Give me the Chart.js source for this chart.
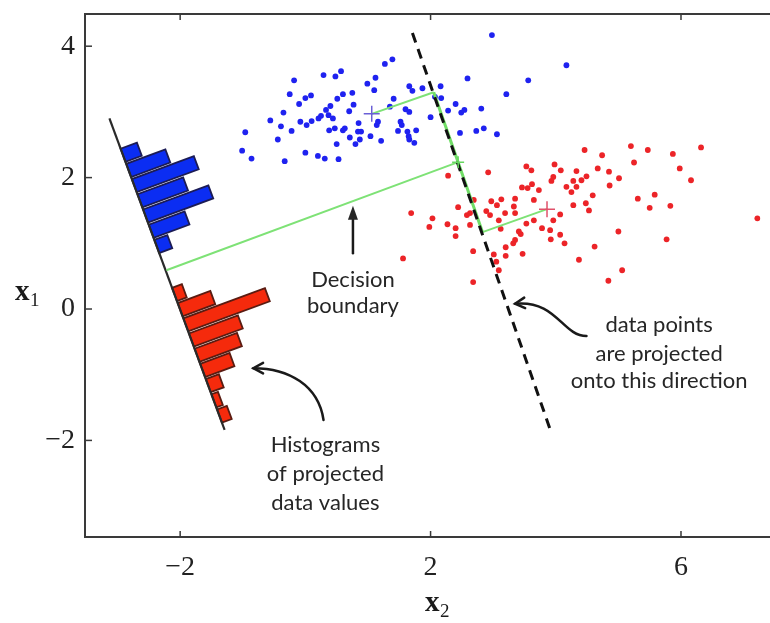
<!DOCTYPE html>
<html><head><meta charset="utf-8">
<script src="https://cdn.jsdelivr.net/npm/chart.js@4.4.1/dist/chart.umd.min.js"></script>
<style>html,body{margin:0;padding:0;background:#fff;overflow:hidden}#wrap{width:770px;height:623px}</style>
</head><body><div id="wrap"><canvas id="c" width="770" height="623"></canvas></div>
<script>
// ---- tick labels ----
const xTicks = [-2, 2, 6];
const yTicks = [-2, 0, 2, 4];
// ---- class 1 (blue) samples ----
const blueX = [1.27,1.39,0.29,0.48,0.57,-0.18,1.12,0.99,1.10,2.59,-0.25,0.00,0.09,0.51,0.60,0.75,1.41,1.66,1.71,1.87,2.16,3.21,-0.10,0.33,0.40,0.25,0.37,0.77,0.70,1.35,1.60,1.66,2.07,2.17,2.40,2.28,2.49,2.54,2.81,-0.35,-0.56,-0.08,0.02,0.10,0.21,0.44,0.47,0.60,0.63,0.85,0.84,0.89,1.14,1.16,1.52,1.54,1.48,1.63,1.77,2.00,2.47,2.73,2.85,3.06,-0.96,-0.39,-0.22,0.38,-0.44,0.71,0.80,0.87,1.04,1.21,1.66,1.74,1.65,0.50,-1.01,-0.86,-0.33,0.00,0.20,0.31,0.53,2.98,4.17,3.56];
const blueY = [3.73,3.80,3.56,3.54,3.62,3.48,3.52,3.43,3.33,3.51,3.27,3.21,3.25,3.20,3.27,3.29,3.20,3.39,3.32,3.36,3.39,3.27,3.12,3.03,3.09,2.94,2.95,3.11,3.01,3.08,3.04,3.00,3.23,3.21,3.12,3.02,2.99,3.03,3.05,2.99,2.87,2.85,2.80,2.86,2.90,2.90,2.75,2.72,2.75,2.83,2.70,2.70,2.80,2.85,2.85,2.80,2.71,2.70,2.72,2.92,2.68,2.71,2.75,2.66,2.69,2.78,2.71,2.72,2.58,2.61,2.51,2.58,2.63,2.56,2.58,2.53,2.63,2.51,2.41,2.29,2.25,2.38,2.33,2.29,2.28,4.17,3.71,3.48];
// ---- class 2 (red) samples ----
const redX = [5.20,5.47,5.87,6.32,4.46,4.74,5.25,5.98,6.16,3.53,3.61,3.98,4.08,4.33,4.49,4.67,4.85,5.01,4.86,2.92,2.28,3.93,3.96,4.28,4.41,4.17,4.25,4.33,3.46,3.55,3.62,3.73,4.59,5.31,5.58,5.50,5.83,2.97,3.13,3.06,3.35,3.65,4.28,4.48,4.53,2.44,2.69,2.58,2.63,1.69,2.03,2.89,2.95,3.09,3.19,3.33,3.35,3.53,3.65,3.78,3.91,3.96,4.07,1.98,2.27,2.40,2.40,2.63,3.12,3.41,3.44,3.35,3.32,3.92,4.07,4.14,5.00,5.77,4.62,3.20,3.20,3.01,3.47,2.68,1.56,4.37,3.05,3.09,5.06,2.68,4.84,7.22];
const redY = [2.48,2.42,2.36,2.46,2.42,2.34,2.23,2.14,1.96,2.17,2.11,2.20,2.11,2.10,2.02,2.14,2.09,1.99,1.88,2.08,2.03,1.95,2.01,1.95,1.96,1.86,1.78,1.86,1.85,1.84,1.90,1.81,1.73,1.68,1.74,1.54,1.57,1.64,1.67,1.58,1.68,1.66,1.58,1.61,1.50,1.55,1.66,1.43,1.46,1.46,1.38,1.49,1.43,1.35,1.46,1.56,1.46,1.30,1.35,1.23,1.20,1.35,1.44,1.25,1.29,1.23,1.11,1.28,1.22,1.18,1.14,1.05,1.00,1.06,1.13,1.00,1.18,1.06,0.95,0.94,0.81,0.83,0.84,0.88,0.77,0.75,0.72,0.59,0.59,0.41,0.43,1.38];
// ---- means, projection direction and decision boundary ----
const blueMean = [1.06, 2.97];
const redMean = [3.86, 1.52];
const blueFoot = [2.05, 3.30];
const redFoot = [2.83, 1.17];
const midPoint = [2.44, 2.235];
const projLineX = [1.71, 3.92];
const projLineY = [4.20, -1.86];
const boundaryX = [2.44, -2.22];
const boundaryY = [2.235, 0.59];
// ---- histograms of projected values ----
const histAxisX = [-3.13, -1.29];
const histAxisY = [2.90, -1.84];
const blueCounts = [5, 12, 19, 14, 20, 11, 4];
const redCounts = [3, 10, 25, 15, 13, 9, 4, 2, 3];
</script>
<script>
const blueStartFrac = 0.094, redStartFrac = 0.541, binFrac = 0.0488, countUnit = 0.0556;
const minus = v => String(v).replace('-', '\u2212');
const pts = (xs, ys) => xs.map((x, i) => ({x, y: ys[i]}));
const seg = (a, b) => [{x:a[0], y:a[1]}, {x:b[0], y:b[1]}];
const zeroPad = s => { s.paddingLeft = 0; s.paddingRight = 0; s.paddingTop = 0; s.paddingBottom = 0; };

const histPlugin = {
  id: 'hist',
  beforeDatasetsDraw(chart) {
    const ctx = chart.ctx, xs = chart.scales.x, ys = chart.scales.y;
    const P = (x, y) => [xs.getPixelForValue(x), ys.getPixelForValue(y)];
    const A = P(histAxisX[0], histAxisY[0]), B = P(histAxisX[1], histAxisY[1]);
    const len = Math.hypot(B[0]-A[0], B[1]-A[1]);
    const d = [(B[0]-A[0])/len, (B[1]-A[1])/len];
    const n = [d[1], -d[0]];
    const unitPx = xs.getPixelForValue(countUnit) - xs.getPixelForValue(0);
    ctx.save();
    const draw = (counts, start, fill, stroke) => {
      counts.forEach((c, i) => {
        const s = (start + i*binFrac)*len + 1, w = binFrac*len - 2.2, L = c*unitPx;
        const a = [A[0]+d[0]*s, A[1]+d[1]*s];
        const b = [a[0]+d[0]*w, a[1]+d[1]*w];
        ctx.beginPath();
        ctx.moveTo(a[0], a[1]); ctx.lineTo(b[0], b[1]);
        ctx.lineTo(b[0]+n[0]*L, b[1]+n[1]*L); ctx.lineTo(a[0]+n[0]*L, a[1]+n[1]*L);
        ctx.closePath();
        ctx.fillStyle = fill; ctx.fill();
        ctx.lineWidth = 1.8; ctx.strokeStyle = stroke; ctx.stroke();
      });
    };
    draw(blueCounts, blueStartFrac, '#0b2df2', '#1c1c55');
    draw(redCounts, redStartFrac, '#f52a0c', '#5a1c12');
    ctx.beginPath(); ctx.moveTo(A[0], A[1]); ctx.lineTo(B[0], B[1]);
    ctx.lineWidth = 2.2; ctx.strokeStyle = '#2a2a2a'; ctx.stroke();
    ctx.restore();
  }
};

const frame = {
  id: 'frame',
  afterDraw(chart) {
    const ctx = chart.ctx, a = chart.chartArea, xs = chart.scales.x, ys = chart.scales.y;
    ctx.save();
    ctx.strokeStyle = '#3a3a3a'; ctx.lineWidth = 2;
    ctx.beginPath();
    ctx.moveTo(chart.width, a.top); ctx.lineTo(a.left, a.top); ctx.lineTo(a.left, a.bottom); ctx.lineTo(chart.width, a.bottom);
    ctx.stroke();
    ctx.lineWidth = 1.5;
    xTicks.forEach(v => { const p = xs.getPixelForValue(v);
      ctx.beginPath(); ctx.moveTo(p, a.bottom); ctx.lineTo(p, a.bottom - 6); ctx.moveTo(p, a.top); ctx.lineTo(p, a.top + 6); ctx.stroke(); });
    yTicks.forEach(v => { const p = ys.getPixelForValue(v);
      ctx.beginPath(); ctx.moveTo(a.left, p); ctx.lineTo(a.left + 7, p); ctx.stroke(); });
    // axis titles
    ctx.fillStyle = '#1a1a1a'; ctx.textBaseline = 'alphabetic'; ctx.textAlign = 'left';
    ctx.font = 'bold 29px "Liberation Serif"'; ctx.fillText('x', 15, 300);
    ctx.font = '19px "Liberation Serif"'; ctx.fillText('1', 30, 306);
    ctx.font = 'bold 29px "Liberation Serif"'; ctx.fillText('x', 425, 611);
    ctx.font = '19px "Liberation Serif"'; ctx.fillText('2', 440, 617);
    ctx.restore();
  }
};

const annotate = {
  id: 'annotate',
  afterDatasetsDraw(chart) {
    const ctx = chart.ctx, xs = chart.scales.x, ys = chart.scales.y;
    const P = (x, y) => [xs.getPixelForValue(x), ys.getPixelForValue(y)];
    ctx.save();
    ctx.fillStyle = '#262626'; ctx.strokeStyle = '#1a1a1a';
    ctx.font = '22px Lato'; ctx.textAlign = 'center'; ctx.textBaseline = 'alphabetic';
    const text = (x, ys_, lines) => lines.forEach((t, i) => { const p = P(x, ys_[i]); ctx.fillText(t, p[0], p[1]); });
    text(0.76, [0.335, -0.06], ['Decision', 'boundary']);
    text(5.65, [-0.35, -0.79, -1.20], ['data points', 'are projected', 'onto this direction']);
    text(0.32, [-2.17, -2.62, -3.06], ['Histograms', 'of projected', 'data values']);
    // straight arrow
    ctx.lineWidth = 2.5; ctx.lineCap = 'round';
    let p0 = P(0.76, 0.85), p1 = P(0.76, 1.57);
    ctx.beginPath(); ctx.moveTo(p0[0], p0[1]); ctx.lineTo(p1[0], p1[1] + 8); ctx.stroke();
    ctx.beginPath(); ctx.moveTo(p1[0], p1[1]); ctx.lineTo(p1[0] - 5, p1[1] + 14); ctx.lineTo(p1[0] + 5, p1[1] + 14); ctx.closePath(); ctx.fill();
    // curved arrows
    const curve = (q0, q1, q2, q3) => {
      const a = P(...q0), b = P(...q1), c = P(...q2), e = P(...q3);
      ctx.beginPath(); ctx.moveTo(a[0], a[1]); ctx.bezierCurveTo(b[0], b[1], c[0], c[1], e[0], e[1]); ctx.stroke();
      const ang = Math.atan2(e[1] - c[1], e[0] - c[0]);
      ctx.beginPath();
      ctx.moveTo(e[0] - 11*Math.cos(ang - 0.5), e[1] - 11*Math.sin(ang - 0.5));
      ctx.lineTo(e[0], e[1]);
      ctx.lineTo(e[0] - 11*Math.cos(ang + 0.5), e[1] - 11*Math.sin(ang + 0.5));
      ctx.stroke();
    };
    curve([4.49, -0.41], [4.10, -0.41], [4.02, 0.14], [3.35, 0.08]);
    curve([0.29, -1.69], [0.21, -1.16], [-0.27, -0.90], [-0.83, -0.90]);
    ctx.restore();
  }
};

new Chart(document.getElementById('c'), {
  type: 'scatter',
  data: { datasets: [
    { data: [{x: blueMean[0], y: blueMean[1]}], pointStyle: 'cross', pointRadius: 8, borderColor: '#6a5fd6', borderWidth: 1.5, order: 0 },
    { data: [{x: redMean[0], y: redMean[1]}], pointStyle: 'cross', pointRadius: 8, borderColor: '#e0506a', borderWidth: 1.5, order: 0 },
    { data: [{x: midPoint[0], y: midPoint[1]}], pointStyle: 'cross', pointRadius: 6, borderColor: '#66d860', borderWidth: 1.5, order: 0 },
    { data: pts(projLineX, projLineY), showLine: true, borderColor: '#111', borderWidth: 3, borderDash: [10, 7], pointRadius: 0, order: 1 },
    { data: seg(blueFoot, redFoot), showLine: true, borderColor: '#70dd66', borderWidth: 3, pointRadius: 0, order: 2 },
    { data: seg(blueMean, blueFoot), showLine: true, borderColor: '#7ee276', borderWidth: 2, pointRadius: 0, order: 2 },
    { data: seg(redMean, redFoot), showLine: true, borderColor: '#7ee276', borderWidth: 2, pointRadius: 0, order: 2 },
    { data: pts(boundaryX, boundaryY), showLine: true, borderColor: '#7ee276', borderWidth: 2, pointRadius: 0, order: 2 },
    { data: pts(blueX, blueY), pointRadius: 2.9, backgroundColor: '#1f22f0', borderWidth: 0, order: 3 },
    { data: pts(redX, redY), pointRadius: 2.9, backgroundColor: '#ec2428', borderWidth: 0, order: 3 }
  ]},
  options: {
    responsive: false, devicePixelRatio: 1, animation: false,
    layout: { padding: { top: 14, right: 0, left: 0, bottom: 0 } },
    plugins: { legend: { display: false }, tooltip: { enabled: false } },
    scales: {
      x: { type: 'linear', min: -3.52, max: 7.27, grid: { display: false, drawTicks: false }, border: { display: false },
        afterBuildTicks: s => { s.ticks = xTicks.map(v => ({value: v})); },
        afterFit: s => { s.height = 86; zeroPad(s); },
        ticks: { font: { family: 'Liberation Serif', size: 28 }, color: '#222', padding: 14, maxRotation: 0, autoSkip: false, callback: v => minus(v) } },
      y: { type: 'linear', min: -3.47, max: 4.49, grid: { display: false, drawTicks: false }, border: { display: false },
        afterBuildTicks: s => { s.ticks = yTicks.map(v => ({value: v})); },
        afterFit: s => { s.width = 85; zeroPad(s); },
        ticks: { font: { family: 'Liberation Serif', size: 28 }, color: '#222', padding: 10, callback: v => minus(v) } }
    }
  },
  plugins: [histPlugin, annotate, frame]
});
</script>
</body></html>
